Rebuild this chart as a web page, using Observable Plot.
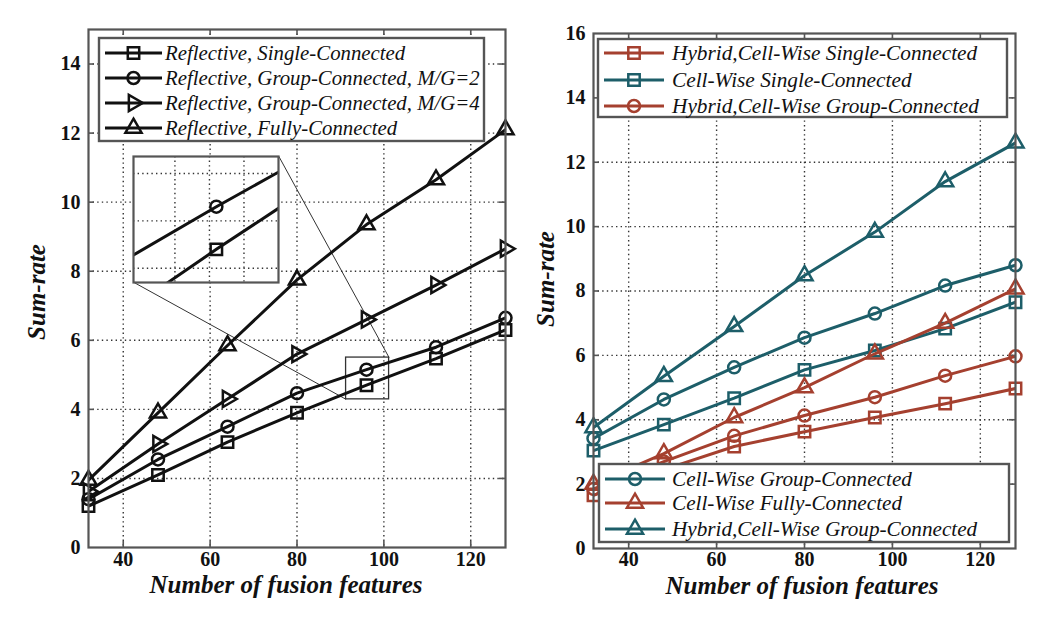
<!DOCTYPE html>
<html><head><meta charset="utf-8">
<script src="https://cdn.jsdelivr.net/npm/d3@7"></script>
<script src="https://cdn.jsdelivr.net/npm/@observablehq/plot@0.6"></script>
<style>
body{margin:0;background:#fff;}
#wrap{position:relative;width:1042px;height:625px;overflow:hidden;font-family:'Liberation Serif','Times New Roman','DejaVu Serif',serif;}
#wrap > *{position:absolute;}
.title{font-weight:bold;font-style:italic;font-size:25px;line-height:0.75;white-space:nowrap;transform:translate(-50%,-50%);color:#111;}
.ytitle{transform:translate(-50%,-50%) rotate(-90deg);}
</style></head><body><div id="wrap"></div>
<script>
// ---------- data ----------
const features = [32, 48, 64, 80, 96, 112, 128];
const xTicks = [40, 60, 80, 100, 120];
const leftYTicks = [0, 2, 4, 6, 8, 10, 12, 14];
const rightYTicks = [0, 2, 4, 6, 8, 10, 12, 14, 16];

const leftSingle  = [1.2, 2.1, 3.05, 3.9, 4.7, 5.47, 6.3];
const leftGroup2  = [1.4, 2.55, 3.5, 4.47, 5.15, 5.8, 6.65];
const leftGroup4  = [1.62, 3.0, 4.3, 5.6, 6.6, 7.6, 8.65];
const leftFully   = [1.95, 3.9, 5.85, 7.75, 9.35, 10.65, 12.1];
const leftLabels = [
  "Reflective, Single-Connected",
  "Reflective, Group-Connected, M/G=2",
  "Reflective, Group-Connected, M/G=4",
  "Reflective, Fully-Connected"
];

const hybridSingle   = [1.65, 2.45, 3.17, 3.63, 4.07, 4.5, 4.97];
const cellSingle     = [3.04, 3.85, 4.67, 5.55, 6.15, 6.83, 7.65];
const hybridGroup    = [1.85, 2.7, 3.5, 4.13, 4.7, 5.37, 5.97];
const cellGroup      = [3.42, 4.63, 5.63, 6.55, 7.3, 8.17, 8.8];
const cellFully      = [2.0, 2.95, 4.07, 5.0, 6.05, 7.0, 8.07];
const hybridGroupTeal= [3.76, 5.35, 6.9, 8.48, 9.83, 11.4, 12.6];
const rightTopLabels = [
  "Hybrid,Cell-Wise Single-Connected",
  "Cell-Wise Single-Connected",
  "Hybrid,Cell-Wise Group-Connected"
];
const rightBottomLabels = [
  "Cell-Wise Group-Connected",
  "Cell-Wise Fully-Connected",
  "Hybrid,Cell-Wise Group-Connected"
];
const xTitle = "Number of fusion features";
const yTitle = "Sum-rate";

// zoom region (data units) and inset placement (left chart data units)
const zoomBox = {x1: 91.3, x2: 101.2, y1: 4.29, y2: 5.5};
const insetExtent = {x1: 42.4, x2: 75.8, y1: 7.68, y2: 11.33};
const insetDomainX = [84, 105];
const insetDomainY = [4.35, 5.68];
const insetXTicks = [90, 95, 100];
const insetYTicks = [4.5, 5, 5.5];

// ---------- styles ----------
const RED = "#a5402f", TEAL = "#1d5e69", BLACK = "#111";
const FRAME = "#555";
const SERIF = "'Liberation Serif', 'Times New Roman', 'DejaVu Serif', serif";

const symSquare = {draw(c, s){const r = Math.sqrt(s/Math.PI)*0.95; c.moveTo(-r,-r); c.lineTo(r,-r); c.lineTo(r,r); c.lineTo(-r,r); c.closePath();}};
const symCircle = {draw(c, s){const r = Math.sqrt(s/Math.PI); c.moveTo(r,0); c.arc(0,0,r,0,2*Math.PI); c.closePath();}};
const symTriUp = {draw(c, s){const R = Math.sqrt(s/Math.PI)*1.55; c.moveTo(0,-R); c.lineTo(R*0.866,R*0.5); c.lineTo(-R*0.866,R*0.5); c.closePath();}};
const symTriRight = {draw(c, s){const R = Math.sqrt(s/Math.PI)*1.55; c.moveTo(R,0); c.lineTo(-R*0.5,R*0.866); c.lineTo(-R*0.5,-R*0.866); c.closePath();}};

const toRows = (vals) => features.map((x, i) => ({x, y: vals[i]}));

const leftSeries = [
  {vals: leftSingle, sym: symSquare, color: BLACK, label: leftLabels[0]},
  {vals: leftGroup2, sym: symCircle, color: BLACK, label: leftLabels[1]},
  {vals: leftGroup4, sym: symTriRight, color: BLACK, label: leftLabels[2]},
  {vals: leftFully, sym: symTriUp, color: BLACK, label: leftLabels[3]}
];
const rightSeries = [
  {vals: hybridSingle, sym: symSquare, color: RED, label: rightTopLabels[0]},
  {vals: cellSingle, sym: symSquare, color: TEAL, label: rightTopLabels[1]},
  {vals: hybridGroup, sym: symCircle, color: RED, label: rightTopLabels[2]},
  {vals: cellGroup, sym: symCircle, color: TEAL, label: rightBottomLabels[0]},
  {vals: cellFully, sym: symTriUp, color: RED, label: rightBottomLabels[1]},
  {vals: hybridGroupTeal, sym: symTriUp, color: TEAL, label: rightBottomLabels[2]}
];

function seriesMarks(series, lw, mw, filter) {
  const m = [];
  for (const s of series) {
    const rows = toRows(s.vals);
    m.push(Plot.line(rows, {x: "x", y: "y", stroke: s.color, strokeWidth: lw, clip: true}));
    m.push(Plot.dot(filter ? rows.filter(filter) : rows, {x: "x", y: "y", symbol: s.sym, r: 6, stroke: s.color, strokeWidth: mw, fill: "none", clip: filter ? true : false}));
  }
  return m;
}

function chart(opts) {
  const {width, height, ml, mr, mt, mb, yDomain, yTicks, series} = opts;
  const innerH = height - mt - mb, innerW = width - ml - mr;
  const tl = 6;
  const ty = tl * (yDomain[1] - yDomain[0]) / innerH;
  const tx = tl * (128 - 32) / innerW;
  const gridStyle = {stroke: "#333", strokeOpacity: 1, strokeWidth: 1.4, strokeDasharray: "1.4,3.2"};
  const gy = yTicks.filter(d => d > yDomain[0] && d < yDomain[1]);
  const gx = xTicks;
  const axisText = {fontFamily: SERIF, fontWeight: "bold", fontSize: 20, fill: "#111"};
  return Plot.plot({
    width, height, marginLeft: ml, marginRight: mr, marginTop: mt, marginBottom: mb,
    x: {domain: [32, 128]},
    y: {domain: yDomain},
    style: {fontFamily: SERIF, fontSize: "20px", fontWeight: "bold", color: "#000", background: "transparent", overflow: "visible"},
    marks: [
      Plot.gridX(gx, gridStyle),
      Plot.gridY(gy, gridStyle),
      Plot.ruleX(gx, {y1: yDomain[0], y2: yDomain[0] + ty, stroke: FRAME, strokeWidth: 1.6}),
      Plot.ruleX(gx, {y1: yDomain[1], y2: yDomain[1] - ty, stroke: FRAME, strokeWidth: 1.6}),
      Plot.ruleY(gy, {x1: 32, x2: 32 + tx, stroke: FRAME, strokeWidth: 1.6}),
      Plot.ruleY(gy, {x1: 128, x2: 128 - tx, stroke: FRAME, strokeWidth: 1.6}),
      Plot.axisX(xTicks, {tickSize: 0, tickPadding: opts.xPad, label: null, ...axisText}),
      Plot.axisY(yTicks, {tickSize: 0, tickPadding: 8, label: null, ...axisText}),
      ...(opts.extra || []),
      ...seriesMarks(series, 3, 2.5),
      Plot.frame({stroke: FRAME, strokeWidth: 2.2})
    ]
  });
}

const wrap = document.getElementById("wrap");

// ---------- left chart ----------
const leftPlot = chart({
  width: 521, height: 625, ml: 88, mr: 16, mt: 29, mb: 78, xPad: 4,
  yDomain: [0, 15], yTicks: leftYTicks, series: leftSeries,
  extra: [
    Plot.rect([zoomBox], {x1: "x1", x2: "x2", y1: "y1", y2: "y2", fill: "none", stroke: "#333", strokeWidth: 1.3}),
    Plot.link([
      {x1: insetExtent.x2, y1: insetExtent.y2, x2: zoomBox.x2, y2: zoomBox.y2},
      {x1: insetExtent.x1, y1: insetExtent.y1, x2: zoomBox.x1, y2: zoomBox.y1}
    ], {x1: "x1", y1: "y1", x2: "x2", y2: "y2", stroke: "#333", strokeWidth: 1})
  ]
});
leftPlot.style.left = "0px"; leftPlot.style.top = "0px";
wrap.appendChild(leftPlot);

// inset
{
  const sx = leftPlot.scale("x"), sy = leftPlot.scale("y");
  const px1 = sx.apply(insetExtent.x1), px2 = sx.apply(insetExtent.x2);
  const py1 = sy.apply(insetExtent.y2), py2 = sy.apply(insetExtent.y1);
  const w = Math.round(px2 - px1), h = Math.round(py2 - py1);
  const gridStyle = {stroke: "#333", strokeOpacity: 1, strokeWidth: 1.4, strokeDasharray: "1.4,3.2"};
  const inset = Plot.plot({
    width: w, height: h, margin: 0,
    x: {domain: insetDomainX, axis: null},
    y: {domain: insetDomainY, axis: null},
    style: {background: "#fff", overflow: "visible"},
    marks: [
      Plot.gridX(insetXTicks, gridStyle),
      Plot.gridY(insetYTicks, gridStyle),
      ...seriesMarks([leftSeries[0], leftSeries[1]], 3, 2.5, d => d.x === 96),
      Plot.frame({stroke: FRAME, strokeWidth: 2.2})
    ]
  });
  inset.style.left = Math.round(px1) + "px";
  inset.style.top = Math.round(py1) + "px";
  wrap.appendChild(inset);
}

// ---------- right chart ----------
const rightPlot = chart({
  width: 521, height: 625, ml: 72, mr: 27, mt: 33, mb: 77, xPad: 3,
  yDomain: [0, 16], yTicks: rightYTicks, series: rightSeries
});
rightPlot.style.left = "521px"; rightPlot.style.top = "0px";
wrap.appendChild(rightPlot);

// ---------- legends ----------
function legend(items, box, rowYs, lineX, textX, fontSize) {
  const svg = d3.create("svg").attr("width", box.w).attr("height", box.h)
    .style("left", box.x + "px").style("top", box.y + "px").style("overflow", "visible");
  svg.append("rect").attr("x", 1).attr("y", 1).attr("width", box.w - 2).attr("height", box.h - 2)
    .attr("fill", "#fff").attr("stroke", FRAME).attr("stroke-width", 2.4);
  items.forEach((it, i) => {
    const cy = rowYs[i];
    svg.append("line").attr("x1", lineX[0]).attr("x2", lineX[1]).attr("y1", cy).attr("y2", cy)
      .attr("stroke", it.color).attr("stroke-width", 3);
    const p = d3.path();
    it.sym.draw(p, Math.PI * 36);
    svg.append("path").attr("d", p.toString()).attr("transform", `translate(${(lineX[0] + lineX[1]) / 2},${cy})`)
      .attr("fill", "none").attr("stroke", it.color).attr("stroke-width", 2.5);
    svg.append("text").attr("x", textX).attr("y", cy).attr("dy", "0.33em")
      .style("font-family", SERIF).style("font-style", "italic").style("font-size", fontSize + "px")
      .attr("fill", "#111").text(it.label);
  });
  wrap.appendChild(svg.node());
}

legend(leftSeries, {x: 98, y: 37, w: 387, h: 105}, [16, 41, 66, 91], [7, 64], 67, 20.8);
legend(rightSeries.slice(0, 3), {x: 597, y: 38, w: 411, h: 80}, [15, 42, 68], [7, 67], 75, 21.3);
legend(rightSeries.slice(3), {x: 598, y: 463, w: 412, h: 80}, [16, 40, 66], [7, 67], 74, 21.2);

// ---------- axis titles ----------
function title(text, x, y, vertical) {
  const d = document.createElement("div");
  d.className = "title" + (vertical ? " ytitle" : "");
  d.style.left = x + "px"; d.style.top = y + "px";
  d.textContent = text;
  wrap.appendChild(d);
}
title(xTitle, 286, 585, false);
title(xTitle, 802, 586, false);
title(yTitle, 37, 292, true);
title(yTitle, 546, 279, true);
</script></body></html>
